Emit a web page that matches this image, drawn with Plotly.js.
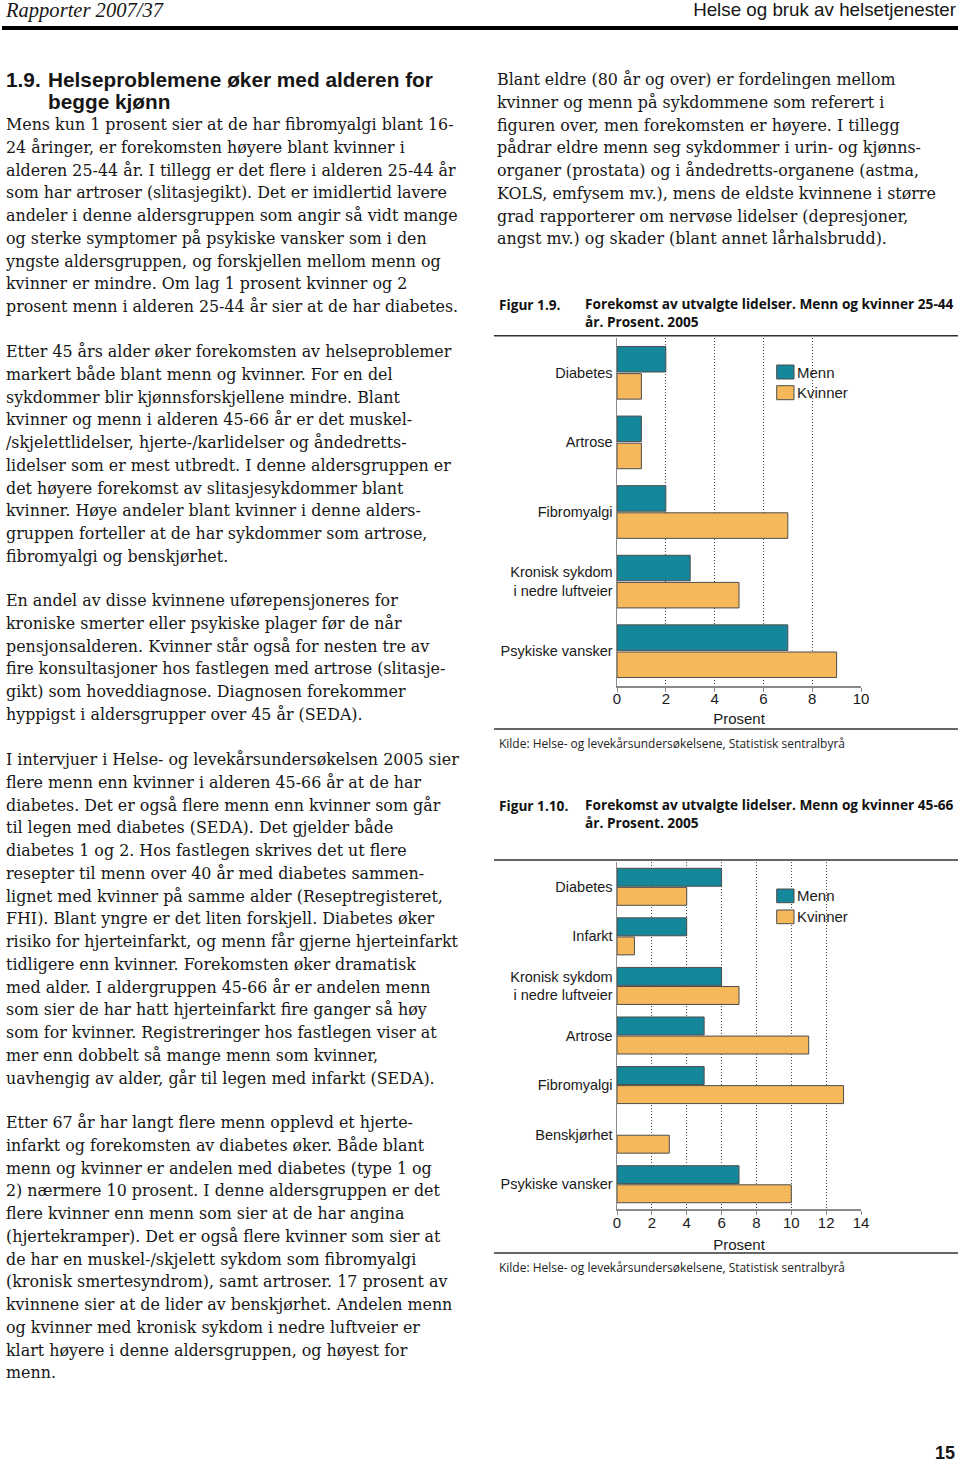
<!DOCTYPE html>
<html><head><meta charset="utf-8">
<script src="https://cdn.plot.ly/plotly-3.0.1.min.js"></script>
<style>
html,body{margin:0;padding:0;background:#fff;}
body{width:960px;height:1465px;position:relative;overflow:hidden;color:#161616;}
.abs{position:absolute;white-space:nowrap;}
.ln{display:block;width:max-content;white-space:nowrap;overflow:visible;}
.serif{font-family:'DejaVu Serif',serif;}
.head{font-family:'Liberation Sans',Arial,sans-serif;font-weight:700;}
</style>
</head><body>
<div class="abs" id="hdrL" style="font-family:'Liberation Serif',serif;font-style:italic;left:6px;top:0px;line-height:20px;height:20px;">Rapporter 2007/37</div>
<div class="abs" id="hdrR" style="font-family:'Liberation Sans',sans-serif;right:4px;top:0px;line-height:20px;height:20px;">Helse og bruk av helsetjenester</div>
<div class="abs" style="left:2px;top:26px;width:956px;height:4px;background:#000;"></div>
<div class="abs" id="pageno" style="font-family:'Liberation Sans',sans-serif;font-weight:700;right:5px;top:1443px;line-height:20px;height:20px;">15</div>
<div id="fig1" style="position:absolute;left:490px;top:290px;width:470px;height:470px"></div>
<div id="fig2" style="position:absolute;left:490px;top:790px;width:470px;height:490px"></div>
<script>
// ---------- chart data ----------
const cats1 = ['Diabetes','Artrose','Fibromyalgi','Kronisk sykdom<br>i nedre luftveier','Psykiske vansker'];
const menn1 = [2,1,2,3,7];
const kvinner1 = [1,1,7,5,9];
const ticks1 = [0,2,4,6,8,10];

const cats2 = ['Diabetes','Infarkt','Kronisk sykdom<br>i nedre luftveier','Artrose','Fibromyalgi','Benskjørhet','Psykiske vansker'];
const menn2 = [6,4,6,5,5,null,7];
const kvinner2 = [4,1,7,11,13,3,10];
const ticks2 = [0,2,4,6,8,10,12,14];

const seriesNames = ['Menn','Kvinner'];
const title1 = ['Forekomst av utvalgte lidelser. Menn og kvinner 25-44','år. Prosent. 2005'];
const title2 = ['Forekomst av utvalgte lidelser. Menn og kvinner 45-66','år. Prosent. 2005'];
const source = 'Kilde: Helse- og levekårsundersøkelsene, Statistisk sentralbyrå';
const axisTitle = 'Prosent';

// ---------- page text ----------
const heading = ['Helseproblemene øker med alderen for','begge kjønn'];
const p1 = ['Mens kun 1 prosent sier at de har fibromyalgi blant 16-','24 åringer, er forekomsten høyere blant kvinner i','alderen 25-44 år. I tillegg er det flere i alderen 25-44 år','som har artroser (slitasjegikt). Det er imidlertid lavere','andeler i denne aldersgruppen som angir så vidt mange','og sterke symptomer på psykiske vansker som i den','yngste aldersgruppen, og forskjellen mellom menn og','kvinner er mindre. Om lag 1 prosent kvinner og 2','prosent menn i alderen 25-44 år sier at de har diabetes.'];
const p2 = ['Etter 45 års alder øker forekomsten av helseproblemer','markert både blant menn og kvinner. For en del','sykdommer blir kjønnsforskjellene mindre. Blant','kvinner og menn i alderen 45-66 år er det muskel-','/skjelettlidelser, hjerte-/karlidelser og åndedretts-','lidelser som er mest utbredt. I denne aldersgruppen er','det høyere forekomst av slitasjesykdommer blant','kvinner. Høye andeler blant kvinner i denne alders-','gruppen forteller at de har sykdommer som artrose,','fibromyalgi og benskjørhet.'];
const p3 = ['En andel av disse kvinnene uførepensjoneres for','kroniske smerter eller psykiske plager før de når','pensjonsalderen. Kvinner står også for nesten tre av','fire konsultasjoner hos fastlegen med artrose (slitasje-','gikt) som hoveddiagnose. Diagnosen forekommer','hyppigst i aldersgrupper over 45 år (SEDA).'];
const p4 = ['I intervjuer i Helse- og levekårsundersøkelsen 2005 sier','flere menn enn kvinner i alderen 45-66 år at de har','diabetes. Det er også flere menn enn kvinner som går','til legen med diabetes (SEDA). Det gjelder både','diabetes 1 og 2. Hos fastlegen skrives det ut flere','resepter til menn over 40 år med diabetes sammen-','lignet med kvinner på samme alder (Reseptregisteret,','FHI). Blant yngre er det liten forskjell. Diabetes øker','risiko for hjerteinfarkt, og menn får gjerne hjerteinfarkt','tidligere enn kvinner. Forekomsten øker dramatisk','med alder. I aldergruppen 45-66 år er andelen menn','som sier de har hatt hjerteinfarkt fire ganger så høy','som for kvinner. Registreringer hos fastlegen viser at','mer enn dobbelt så mange menn som kvinner,','uavhengig av alder, går til legen med infarkt (SEDA).'];
const p5 = ['Etter 67 år har langt flere menn opplevd et hjerte-','infarkt og forekomsten av diabetes øker. Både blant','menn og kvinner er andelen med diabetes (type 1 og','2) nærmere 10 prosent. I denne aldersgruppen er det','flere kvinner enn menn som sier at de har angina','(hjertekramper). Det er også flere kvinner som sier at','de har en muskel-/skjelett sykdom som fibromyalgi','(kronisk smertesyndrom), samt artroser. 17 prosent av','kvinnene sier at de lider av benskjørhet. Andelen menn','og kvinner med kronisk sykdom i nedre luftveier er','klart høyere i denne aldersgruppen, og høyest for','menn.'];
const pr = ['Blant eldre (80 år og over) er fordelingen mellom','kvinner og menn på sykdommene som referert i','figuren over, men forekomsten er høyere. I tillegg','pådrar eldre menn seg sykdommer i urin- og kjønns-','organer (prostata) og i åndedretts-organene (astma,','KOLS, emfysem mv.), mens de eldste kvinnene i større','grad rapporterer om nervøse lidelser (depresjoner,','angst mv.) og skader (blant annet lårhalsbrudd).'];

const LH = 22.75;
function esc(s){return s.replace(/&/g,'&amp;').replace(/</g,'&lt;');}
function para(lines, left, firstCenter, cls, lh){
  lh = lh || LH;
  const d=document.createElement('div');
  d.className='abs '+cls;
  d.style.left=left+'px';
  d.style.top=(firstCenter-lh/2)+'px';
  d.innerHTML=lines.map(t=>'<div class="ln" style="height:'+lh+'px;line-height:'+lh+'px">'+esc(t)+'</div>').join('');
  document.body.appendChild(d);
  return d;
}
function maxW(d){return Math.max(...Array.from(d.querySelectorAll('.ln')).map(s=>s.getBoundingClientRect().width));}
function fitEl(el, target){el.style.fontSize='16px'; const w=el.getBoundingClientRect().width; el.style.fontSize=(16*target/w)+'px';}

const left = [para(p1,6,125.5,'serif'),para(p2,6,352.5,'serif'),para(p3,6,601.5,'serif'),para(p4,6,760.5,'serif'),para(p5,6,1123.5,'serif')];
const right = [para(pr,497,80.5,'serif')];
const allP = left.concat(right);
allP.forEach(d=>d.style.fontSize='16px');
const sBody = 16*453/Math.max(...left.map(maxW));
allP.forEach(d=>d.style.fontSize=sBody+'px');

const hnum = para(['1.9.'],6,79.5,'head',22);
const htxt = para(heading,48,79.5,'head',22);
hnum.style.fontSize='16px'; htxt.style.fontSize='16px';
const hs = 16*385/maxW(htxt);
hnum.style.fontSize=hs+'px'; htxt.style.fontSize=hs+'px';

fitEl(document.getElementById('hdrL'),157);
fitEl(document.getElementById('hdrR'),263);
document.getElementById('pageno').style.fontSize='18px';

// ---------- charts ----------
const SANS='Liberation Sans, Arial, sans-serif';
const TEAL='#15879a', ORANGE='#f5b95b', EDGE='#4d4d4d';
const cv=document.createElement('canvas').getContext('2d');
function tw(text,size,fam,weight){cv.font=(weight||'normal')+' '+size+'px '+fam; return cv.measureText(text).width;}
const TFAM='"Open Sans"';
const titleSize = 14*369/tw(title1[0],14,TFAM,'bold');
const srcSize = 12*346/tw(source,12,TFAM,'normal');

function drawFig(id,o){
  const W=470,H=o.H,m=o.m;
  const pw=W-m.l-m.r, ph=H-m.t-m.b;
  const px=x=>(x-m.l)/pw, py=y=>(H-m.b-y)/ph;
  const colors=[TEAL,ORANGE];
  const traces=[
    {type:'bar',orientation:'h',name:seriesNames[0],y:o.cats,x:o.menn,marker:{color:colors[0],line:{color:EDGE,width:1}},showlegend:false},
    {type:'bar',orientation:'h',name:seriesNames[1],y:o.cats,x:o.kvinner,marker:{color:colors[1],line:{color:EDGE,width:1}},showlegend:false}
  ];
  const tf={family:'Open Sans, sans-serif',size:titleSize,color:'#111',weight:'bold'};
  const ann=(x,y,text,font)=>({xref:'paper',yref:'paper',x:px(x),y:py(y),xanchor:'left',yanchor:'middle',showarrow:false,text:text,font:font,align:'left'});
  const rule=y=>({type:'line',xref:'paper',yref:'paper',x0:px(4),x1:px(468),y0:py(y),y1:py(y),line:{color:'#333',width:1.6}});
  const legShapes=[], legAnn=[];
  seriesNames.forEach((nm,i)=>{
    const top=o.legTop+i*o.legStep;
    legShapes.push({type:'rect',xref:'paper',yref:'paper',x0:px(286.7),x1:px(304),y0:py(top+o.boxH),y1:py(top),fillcolor:colors[i],line:{color:EDGE,width:1}});
    legAnn.push(ann(305,top+o.boxH/2,nm,{family:SANS,size:15,color:'#1a1a1a'}));
  });
  const layout={
    width:W,height:H,margin:{l:m.l,r:m.r,t:m.t,b:m.b,pad:0},
    paper_bgcolor:'rgba(0,0,0,0)',plot_bgcolor:'rgba(0,0,0,0)',
    font:{family:SANS,size:15,color:'#1a1a1a'},
    barmode:'group',bargap:o.bargap,bargroupgap:0.06,
    showlegend:false,
    xaxis:{range:[0,o.ticks[o.ticks.length-1]],tickmode:'array',tickvals:o.ticks,ticktext:o.ticks.map(String),showgrid:true,gridcolor:'#444',gridwidth:1,griddash:'1px,2px',zeroline:false,showline:true,linecolor:'#8a8a8a',linewidth:1.5,ticks:'outside',ticklen:4,tickcolor:'#8a8a8a',tickwidth:1,tickfont:{size:15},ticklabelstandoff:o.tls,title:{text:axisTitle,font:{size:15},standoff:o.tstd},fixedrange:true,automargin:false},
    yaxis:{type:'category',categoryorder:'array',categoryarray:o.cats,range:[o.cats.length-0.5,-0.5],showgrid:false,zeroline:false,showline:true,linecolor:'#8a8a8a',linewidth:1.5,ticks:'',tickfont:{size:14.5},automargin:false,fixedrange:true},
    shapes:[rule(o.rule1),rule(o.rule2)].concat(legShapes),
    annotations:[
      ann(7,o.tY1,'<b>'+o.figNo+'</b>',tf),
      ann(93,o.tY1+8.5,'<b>'+o.title[0]+'</b><br><b>'+o.title[1]+'</b>',tf),
      ann(7,o.srcY,source,{family:'Open Sans, sans-serif',size:srcSize,color:'#222'})
    ].concat(legAnn)
  };
  Plotly.newPlot(id,traces,layout,{staticPlot:true,displayModeBar:false});
}
drawFig('fig1',{H:470,m:{l:127,r:99,t:48,b:74},cats:cats1,menn:menn1,kvinner:kvinner1,ticks:ticks1,bargap:0.22,legTop:75,legStep:20.7,boxH:14,rule1:45.7,rule2:439,tY1:14,srcY:453,figNo:'Figur 1.9.',title:title1,tls:-6,tstd:8});
drawFig('fig2',{H:490,m:{l:127,r:99,t:72,b:71},cats:cats2,menn:menn2,kvinner:kvinner2,ticks:ticks2,bargap:0.23,legTop:99,legStep:21,boxH:13.7,rule1:70,rule2:463,tY1:15,srcY:477,figNo:'Figur 1.10.',title:title2,tls:-5,tstd:10});
</script>
</body></html>
